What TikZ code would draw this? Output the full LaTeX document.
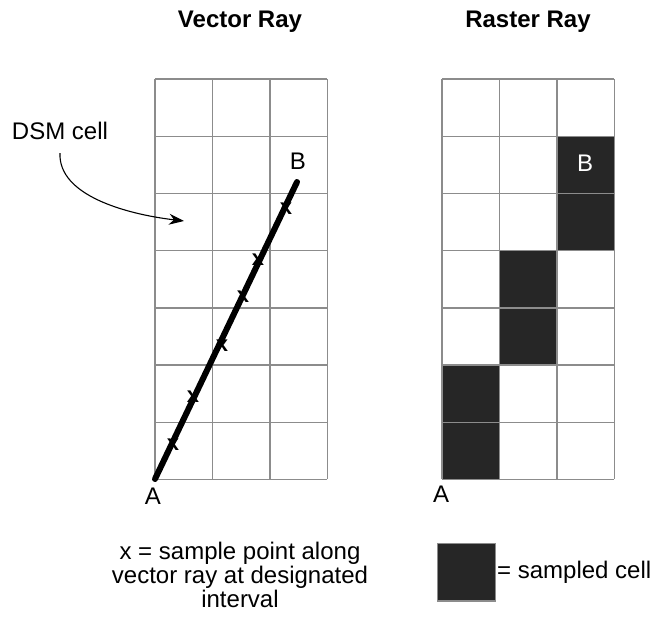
\documentclass[tikz,border=0pt]{standalone}
\usepackage{fontspec}
\setmainfont{Liberation Sans}
\usetikzlibrary{arrows.meta}
\definecolor{cellfill}{HTML}{262626}
\definecolor{gridgray}{HTML}{8C8C8C}
\begin{document}
\begin{tikzpicture}[x=1pt,y=-1pt,
  gridline/.style={draw=gridgray,line width=1.4pt},
  lbl/.style={font=\fontsize{24}{24}\selectfont,inner sep=0pt},
  ttl/.style={font=\fontsize{24}{24}\selectfont\bfseries,inner sep=0pt},
  markx/.style={font=\fontsize{22}{22}\selectfont\bfseries,inner sep=0pt},
  sampled/.style={fill=cellfill}]
\useasboundingbox (0,0) rectangle (656,619);
% titles
\node[ttl] (t1) at (240,22) {Vector Ray};
\node[ttl] (t2) at (528,22) {Raster Ray};
% right grid fills
\foreach \c/\r in {2/1,2/2,1/3,1/4,0/5,0/6}
  \fill[sampled] (442+\c*57.4,79+\r*57.2) rectangle ++(57.4,57.2);
% grids
\foreach \i in {0,...,3} {
  \draw[gridline] (155+\i*57.4,79) -- (155+\i*57.4,479.4);
  \draw[gridline] (442+\i*57.4,79) -- (442+\i*57.4,479.4);
}
\foreach \j in {0,...,7} {
  \draw[gridline] (155,79+\j*57.2) -- (327.2,79+\j*57.2);
  \draw[gridline] (442,79+\j*57.2) -- (614.2,79+\j*57.2);
}
% DSM cell label and arrow
\node[lbl] (dsm) at (60,131) {DSM cell};
\coordinate (dsmtip) at (184,221);
\draw[line width=1.1pt,-{Stealth[length=15pt,width=11pt]}] (60,153) .. controls (58,195) and (125,214) .. (dsmtip);
% vector ray
\coordinate (A) at (155,479);
\coordinate (B) at (297,182);
\draw[line width=6pt,line cap=round] (A) -- (B);
\foreach \p in {(173,445),(193,397),(222,346),(243,297),(258,260),(286,209)}
  \node[markx] at \p {x};
\node[lbl] (la) at (153,496) {A};
\node[lbl] (lb) at (298,161) {B};
% raster labels
\node[lbl] (ra) at (441,494) {A};
\node[lbl,text=white] (rb) at (585,163) {B};
% legends
\node[lbl,align=center] (note) at (240,575) {x = sample point along\\vector ray at designated\\interval};
\fill[sampled,draw=gridgray,line width=1.4pt] (437.5,543.5) rectangle (495.5,601);
\node[lbl,anchor=west] (sc) at (497,572) {= sampled cell};
\end{tikzpicture}
\end{document}
